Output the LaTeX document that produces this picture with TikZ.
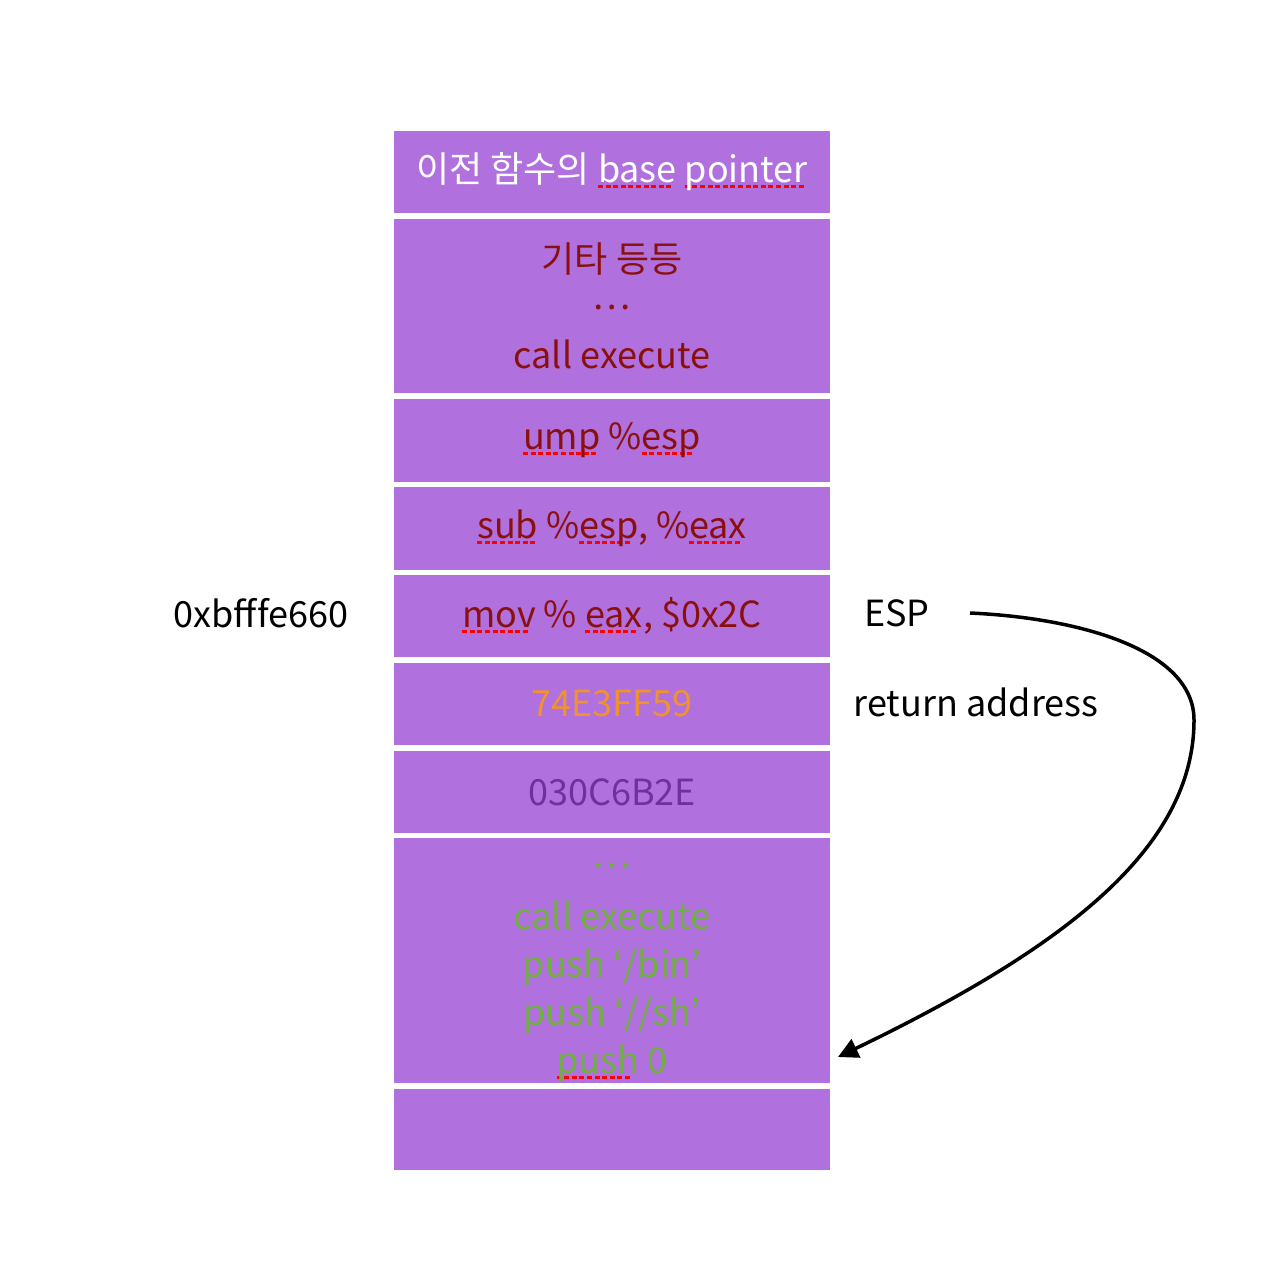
\documentclass[tikz,border=0pt]{standalone}
\usepackage{fontspec}
\setmainfont{Noto Sans CJK KR}
\usetikzlibrary{arrows.meta}

\definecolor{cellfill}{HTML}{B070DD}
\definecolor{oldred}{HTML}{8A1010}
\definecolor{retorange}{HTML}{F0922E}
\definecolor{argpurple}{HTML}{7030A0}
\definecolor{codegreen}{HTML}{70B040}

% red dotted spell-check mark under a word
\newlength\sqwidth
\newcommand\sq[1]{\settowidth\sqwidth{#1}\rlap{\color{red}\raisebox{-2.5pt}{\leaders\hbox to 3.8pt{\vrule width 2.5pt height 1.5pt\hss}\hskip\sqwidth}}#1}

\begin{document}
\begin{tikzpicture}[x=0.5pt, y=-0.5pt, >=Triangle,
    cell/.style={fill=cellfill, minimum width=218pt, inner sep=0pt, align=center,
                 font=\fontsize{18}{24}\selectfont},
    lbl/.style={font=\fontsize{18}{24}\selectfont, inner sep=0pt},
    ptr/.style={line width=1.75pt, -{Triangle[length=10pt, width=10pt]}}]
    \useasboundingbox (0,0) rectangle (1284,1284);

    \node[cell, minimum height=41pt, text=white] (prevbp) at (612,172) {이전 함수의 \sq{base} \sq{pointer}};
    \node[cell, minimum height=87pt, text=oldred] (misc) at (612,306) {기타 등등\\[-5.5pt]…\\[5.5pt]call execute};
    \node[cell, minimum height=41.5pt, text=oldred] (ump) at (612,440.5) {\sq{ump} \%\sq{esp}};
    \node[cell, minimum height=41.5pt, text=oldred] (sub) at (612,528.5) {\sq{sub} \%\sq{esp}, \%\sq{eax}};
    \node[cell, minimum height=41pt, text=oldred] (mov) at (612,616) {\sq{mov} \% \sq{eax}, \$0x2C};
    \node[cell, minimum height=41pt, text=retorange] (ret) at (612,704) {74E3FF59};
    \node[cell, minimum height=41pt, text=argpurple] (arg) at (612,792) {030C6B2E};
    \node[cell, minimum height=122.5pt, text=codegreen] (shell) at (612,960.5) {};
    \node[align=center, text=codegreen, font=\fontsize{18}{24}\selectfont, yshift=-6pt] (shelltext) at (shell.center)
        {…\\[7pt]call execute\\push ‘/bin’\\push ‘//sh’\\\sq{push} 0};
    \node[cell, minimum height=40.5pt] (bottom) at (612,1129.5) {};

    \node[lbl] (addr) at (261,613) {0xbfffe660};
    \node[lbl] (esp) at (897,613) {ESP};
    \node[lbl] (retlbl) at (976,702) {return address};

    \coordinate (esptail) at (970,613);
    \coordinate (shelltip) at (838,1057);
    \draw[ptr] (esptail) .. controls (1080,618) and (1194,650) .. (1194,720)
        .. controls (1194,850) and (1060,950) .. (shelltip);
\end{tikzpicture}
\end{document}
